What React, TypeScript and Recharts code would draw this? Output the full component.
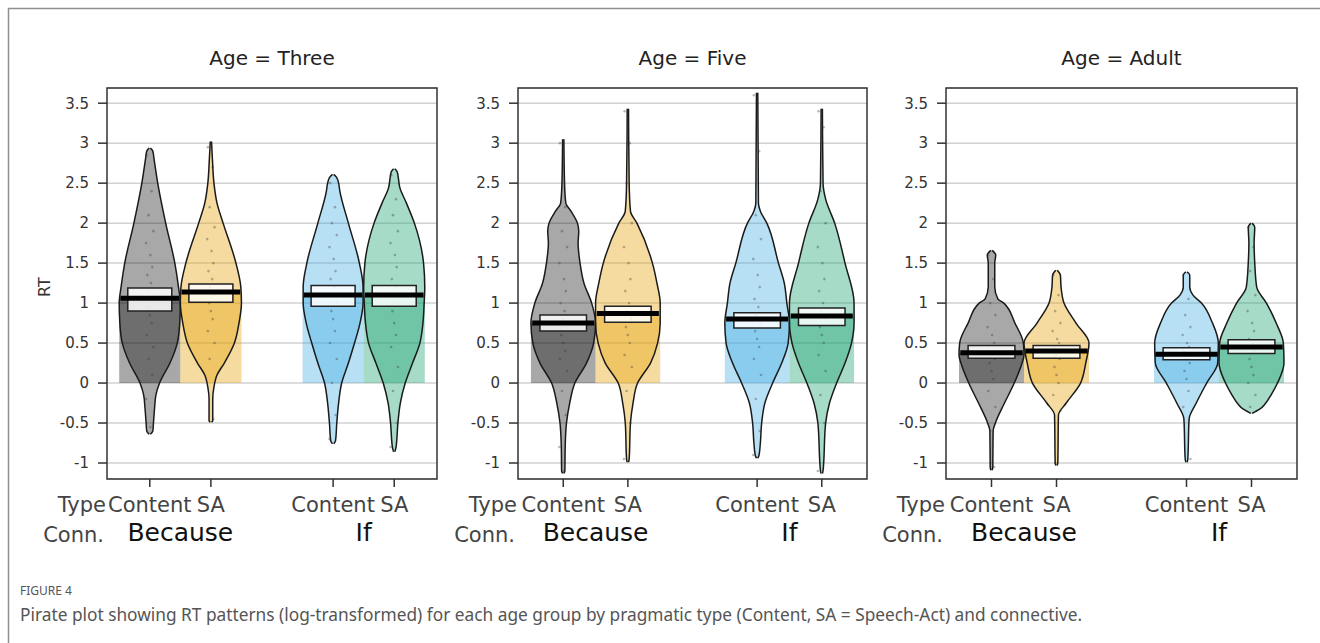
import React from 'react';
import {
  ComposedChart,
  XAxis,
  YAxis,
  CartesianGrid,
  Area,
  Scatter,
  ReferenceArea,
  ReferenceLine,
} from 'recharts';

// categories
const AGES = ['Three', 'Five', 'Adult'];
const POSITIONS = [1, 2, 4, 5];
const TYPE_LABELS = ['Content', 'SA', 'Content', 'SA'];
const CONN_POSITIONS = [1.5, 4.5];
const CONN_LABELS = ['Because', 'If'];
const Y_TICKS = [-1, -0.5, 0, 0.5, 1, 1.5, 2, 2.5, 3, 3.5];

// means (bar heights) and inference bands, order: Because-Content, Because-SA, If-Content, If-SA
const MEAN_THREE = [1.06, 1.14, 1.1, 1.1];
const CI_LOW_THREE = [0.9, 1.01, 0.96, 0.96];
const CI_HIGH_THREE = [1.19, 1.24, 1.22, 1.22];

const MEAN_FIVE = [0.75, 0.87, 0.8, 0.84];
const CI_LOW_FIVE = [0.65, 0.76, 0.69, 0.72];
const CI_HIGH_FIVE = [0.85, 0.96, 0.88, 0.94];

const MEAN_ADULT = [0.38, 0.4, 0.36, 0.45];
const CI_LOW_ADULT = [0.31, 0.31, 0.29, 0.37];
const CI_HIGH_ADULT = [0.47, 0.47, 0.44, 0.54];

// violin outlines: [RT, half width]
const THREE_BC = [[-0.64, 0.01], [-0.6, 0.05], [-0.5, 0.06], [-0.3, 0.08], [-0.15, 0.1], [0, 0.16], [0.25, 0.33], [0.5, 0.45], [0.75, 0.49], [1.0, 0.5], [1.2, 0.47], [1.5, 0.41], [2.0, 0.26], [2.5, 0.13], [2.8, 0.07], [2.9, 0.05], [2.94, 0.01]];
const THREE_BS = [[-0.49, 0.01], [-0.47, 0.03], [-0.2, 0.03], [-0.05, 0.05], [0.1, 0.1], [0.25, 0.22], [0.5, 0.385], [0.75, 0.46], [1.0, 0.5], [1.2, 0.49], [1.5, 0.41], [2.0, 0.2], [2.25, 0.1], [2.5, 0.05], [2.8, 0.025], [3.02, 0.01]];
const THREE_IC = [[-0.76, 0.01], [-0.72, 0.04], [-0.5, 0.06], [-0.25, 0.09], [0, 0.14], [0.25, 0.25], [0.5, 0.35], [0.75, 0.44], [1.0, 0.49], [1.2, 0.49], [1.5, 0.43], [2.0, 0.25], [2.4, 0.11], [2.5, 0.09], [2.57, 0.06], [2.61, 0.01]];
const THREE_IS = [[-0.86, 0.01], [-0.8, 0.03], [-0.5, 0.06], [-0.25, 0.1], [0, 0.18], [0.25, 0.3], [0.5, 0.42], [0.75, 0.47], [1.0, 0.49], [1.2, 0.5], [1.5, 0.48], [2.0, 0.33], [2.25, 0.2], [2.45, 0.09], [2.55, 0.07], [2.64, 0.05], [2.68, 0.01]];

const FIVE_BC = [[-1.13, 0.01], [-1.1, 0.025], [-0.8, 0.03], [-0.5, 0.05], [-0.25, 0.1], [0, 0.18], [0.25, 0.36], [0.5, 0.47], [0.75, 0.5], [1.0, 0.44], [1.25, 0.32], [1.5, 0.26], [1.75, 0.23], [1.9, 0.24], [2.0, 0.22], [2.15, 0.12], [2.25, 0.04], [2.5, 0.02], [3.05, 0.01]];
const FIVE_BS = [[-0.99, 0.01], [-0.95, 0.02], [-0.5, 0.04], [-0.25, 0.08], [0, 0.15], [0.25, 0.35], [0.5, 0.46], [0.75, 0.5], [1.0, 0.5], [1.25, 0.45], [1.5, 0.38], [2.0, 0.14], [2.15, 0.04], [2.5, 0.02], [3.43, 0.01]];
const FIVE_IC = [[-0.94, 0.01], [-0.9, 0.03], [-0.75, 0.05], [-0.5, 0.07], [-0.25, 0.12], [0, 0.24], [0.25, 0.38], [0.5, 0.48], [0.75, 0.5], [1.0, 0.46], [1.25, 0.42], [1.5, 0.33], [2.0, 0.15], [2.15, 0.05], [2.25, 0.02], [3.63, 0.01]];
const FIVE_IS = [[-1.13, 0.01], [-1.1, 0.02], [-0.5, 0.06], [-0.25, 0.12], [0, 0.23], [0.25, 0.36], [0.5, 0.46], [0.75, 0.5], [1.0, 0.5], [1.5, 0.36], [2.0, 0.2], [2.3, 0.06], [2.5, 0.02], [3.43, 0.01]];

const ADULT_BC = [[-1.09, 0.01], [-1.05, 0.02], [-0.6, 0.025], [-0.5, 0.06], [-0.25, 0.2], [0, 0.35], [0.25, 0.47], [0.35, 0.5], [0.5, 0.49], [0.75, 0.36], [1.0, 0.19], [1.05, 0.1], [1.2, 0.05], [1.5, 0.05], [1.6, 0.065], [1.66, 0.01]];
const ADULT_BS = [[-1.03, 0.01], [-1.0, 0.02], [-0.4, 0.03], [-0.25, 0.15], [0, 0.37], [0.25, 0.45], [0.5, 0.5], [0.75, 0.3], [1.0, 0.115], [1.2, 0.07], [1.35, 0.06], [1.41, 0.01]];
const ADULT_IC = [[-0.99, 0.01], [-0.95, 0.02], [-0.45, 0.04], [-0.25, 0.15], [0, 0.31], [0.25, 0.48], [0.5, 0.49], [0.75, 0.4], [1.0, 0.23], [1.1, 0.1], [1.2, 0.05], [1.35, 0.05], [1.39, 0.01]];
const ADULT_IS = [[-0.38, 0.01], [-0.36, 0.05], [-0.33, 0.12], [-0.25, 0.22], [-0.15, 0.3], [0, 0.4], [0.25, 0.5], [0.5, 0.49], [0.75, 0.38], [1.0, 0.23], [1.2, 0.08], [1.5, 0.05], [1.75, 0.04], [1.95, 0.05], [2.0, 0.01]];

// raw points (RT values) per category
const PTS_THREE_BC = [2.85, 2.4, 2.1, 1.9, 1.75, 1.6, 1.45, 1.35, 1.25, 1.15, 1.05, 0.95, 0.85, 0.75, 0.6, 0.45, 0.3, 0.1, -0.2, -0.55];
const PTS_THREE_BS = [2.95, 2.7, 2.2, 1.95, 1.8, 1.65, 1.5, 1.4, 1.3, 1.2, 1.1, 1.0, 0.9, 0.8, 0.65, 0.5, 0.3, -0.45];
const PTS_THREE_IC = [2.5, 2.2, 2.0, 1.85, 1.7, 1.55, 1.4, 1.3, 1.2, 1.1, 1.0, 0.9, 0.8, 0.65, 0.5, 0.3, 0.0, -0.4, -0.7];
const PTS_THREE_IS = [2.6, 2.3, 2.1, 1.9, 1.75, 1.6, 1.45, 1.3, 1.2, 1.1, 1.0, 0.9, 0.75, 0.6, 0.45, 0.2, -0.1, -0.5, -0.8];
const PTS_FIVE_BC = [3.0, 2.2, 1.9, 1.7, 1.5, 1.3, 1.15, 1.0, 0.9, 0.8, 0.7, 0.6, 0.5, 0.4, 0.3, 0.15, -0.1, -0.4, -0.8, -1.1];
const PTS_FIVE_BS = [3.4, 3.0, 2.5, 2.0, 1.7, 1.5, 1.3, 1.15, 1.0, 0.9, 0.8, 0.7, 0.6, 0.5, 0.35, 0.2, -0.1, -0.5, -0.95];
const PTS_FIVE_IC = [3.6, 2.9, 2.1, 1.8, 1.55, 1.35, 1.2, 1.05, 0.95, 0.85, 0.75, 0.65, 0.55, 0.45, 0.3, 0.1, -0.2, -0.6, -0.9];
const PTS_FIVE_IS = [3.4, 3.2, 2.4, 2.0, 1.7, 1.5, 1.3, 1.15, 1.0, 0.9, 0.8, 0.7, 0.6, 0.5, 0.35, 0.15, -0.15, -0.5, -1.1];
const PTS_ADULT_BC = [1.6, 1.3, 1.0, 0.85, 0.7, 0.6, 0.5, 0.45, 0.4, 0.35, 0.3, 0.25, 0.15, 0.05, -0.1, -0.3, -0.6, -1.05];
const PTS_ADULT_BS = [1.35, 1.1, 0.9, 0.75, 0.65, 0.55, 0.5, 0.45, 0.4, 0.35, 0.3, 0.2, 0.1, 0.0, -0.15, -0.35, -1.0];
const PTS_ADULT_IC = [1.35, 1.05, 0.85, 0.7, 0.6, 0.5, 0.45, 0.4, 0.35, 0.3, 0.25, 0.15, 0.05, -0.1, -0.3, -0.95];
const PTS_ADULT_IS = [1.95, 1.7, 1.4, 1.1, 0.9, 0.75, 0.65, 0.55, 0.5, 0.45, 0.4, 0.3, 0.2, 0.1, 0.0, -0.15, -0.3];
const JITTER = [-0.05, 0.03, -0.02, 0.06, -0.06, 0.01, 0.04, -0.04, 0.02, -0.01, 0.05, -0.03, 0.0, 0.03, -0.05, 0.06, -0.02, 0.04, -0.06, 0.01];

const MEANS = [MEAN_THREE, MEAN_FIVE, MEAN_ADULT];
const CI_LOWS = [CI_LOW_THREE, CI_LOW_FIVE, CI_LOW_ADULT];
const CI_HIGHS = [CI_HIGH_THREE, CI_HIGH_FIVE, CI_HIGH_ADULT];
const SHAPES = [
  [THREE_BC, THREE_BS, THREE_IC, THREE_IS],
  [FIVE_BC, FIVE_BS, FIVE_IC, FIVE_IS],
  [ADULT_BC, ADULT_BS, ADULT_IC, ADULT_IS],
];
const POINTS = [
  [PTS_THREE_BC, PTS_THREE_BS, PTS_THREE_IC, PTS_THREE_IS],
  [PTS_FIVE_BC, PTS_FIVE_BS, PTS_FIVE_IC, PTS_FIVE_IS],
  [PTS_ADULT_BC, PTS_ADULT_BS, PTS_ADULT_IC, PTS_ADULT_IS],
];

const FILLS = ['#000000', '#E6A50F', '#34A6E2', '#1EA573'];
const ALPHAS = [0.34, 0.4, 0.35, 0.4];

// layout
const BOXES = [
  { left: 107, right: 437 },
  { left: 518, right: 867 },
  { left: 946, right: 1297 },
];
const X_DOMAIN = [0.3, 5.7];
const Y_DOMAIN = [-1.2, 3.69];
const CHART_TOP = 40;
const CHART_H = 509;
const Y_AXIS_W = 70;
const FONT = '"DejaVu Sans", Arial, sans-serif';

const dot = (p: any) => <circle cx={p.cx} cy={p.cy} r={1.3} fill="#333" fillOpacity={0.35} />;

function Panel({ index }: { index: number }) {
  const box = BOXES[index];
  const chartLeft = box.left - Y_AXIS_W;
  const width = box.right - chartLeft + 10;
  const means = MEANS[index];
  const lows = CI_LOWS[index];
  const highs = CI_HIGHS[index];
  const violins = SHAPES[index].map((shape, i) =>
    shape.map(([y, w]) => ({ y, range: [POSITIONS[i] - w, POSITIONS[i] + w] }))
  );
  const points = POINTS[index].flatMap((ys, i) =>
    ys.map((y, j) => ({ x: POSITIONS[i] + JITTER[j % JITTER.length], y }))
  );

  return (
    <div style={{ position: 'absolute', left: chartLeft, top: CHART_TOP }}>
      <ComposedChart
        layout="vertical"
        width={width}
        height={CHART_H}
        margin={{ top: 48, right: 10, bottom: 0, left: 0 }}
        style={{ fontFamily: FONT }}
      >
        <CartesianGrid horizontal vertical={false} stroke="#d2d2d2" strokeWidth={1.5} />
        <XAxis
          type="number"
          dataKey="x"
          domain={X_DOMAIN}
          allowDataOverflow
          ticks={POSITIONS}
          interval={0}
          tickFormatter={(v: number) => TYPE_LABELS[POSITIONS.indexOf(v)] ?? ''}
          height={30}
          tickSize={8}
          tickMargin={10}
          axisLine={false}
          tickLine={{ stroke: '#333', strokeWidth: 1.5 }}
          tick={{ fontSize: 21, fill: '#444', fontFamily: FONT }}
        />
        <XAxis
          xAxisId="conn"
          type="number"
          domain={X_DOMAIN}
          allowDataOverflow
          ticks={CONN_POSITIONS}
          interval={0}
          tickFormatter={(v: number) => CONN_LABELS[CONN_POSITIONS.indexOf(v)] ?? ''}
          height={40}
          tickSize={0}
          tickMargin={14}
          axisLine={false}
          tickLine={false}
          tick={{ fontSize: 25, fill: '#111', fontFamily: FONT }}
        />
        <YAxis
          type="number"
          dataKey="y"
          reversed
          domain={Y_DOMAIN}
          allowDataOverflow
          ticks={Y_TICKS}
          interval={0}
          width={Y_AXIS_W}
          tickSize={9}
          tickMargin={9}
          axisLine={false}
          tickLine={{ stroke: '#333', strokeWidth: 1.5 }}
          tick={{ fontSize: 15, fill: '#333', fontFamily: FONT }}
        />
        {POSITIONS.map((p, i) => (
          <ReferenceArea
            key={`bar${i}`}
            x1={p - 0.5}
            x2={p + 0.5}
            y1={0}
            y2={means[i]}
            fill={FILLS[i]}
            fillOpacity={ALPHAS[i]}
            stroke="none"
            zIndex={50}
          />
        ))}
        {violins.map((data, i) => (
          <Area
            key={`vio${i}`}
            data={data}
            dataKey="range"
            type="monotone"
            fill={FILLS[i]}
            fillOpacity={ALPHAS[i]}
            stroke="#1a1a1a"
            strokeWidth={1.5}
            dot={false}
            activeDot={false}
            isAnimationActive={false}
            zIndex={100}
          />
        ))}
        <Scatter data={points} shape={dot} isAnimationActive={false} zIndex={600} />
        {POSITIONS.map((p, i) => (
          <ReferenceArea
            key={`ci${i}`}
            x1={p - 0.36}
            x2={p + 0.36}
            y1={lows[i]}
            y2={highs[i]}
            fill="#ffffff"
            fillOpacity={0.85}
            stroke="#222"
            strokeWidth={1.5}
            zIndex={700}
          />
        ))}
        {POSITIONS.map((p, i) => (
          <ReferenceLine
            key={`avg${i}`}
            segment={[{ x: p - 0.48, y: means[i] }, { x: p + 0.48, y: means[i] }]}
            stroke="#000"
            strokeWidth={5}
            zIndex={800}
          />
        ))}
        <ReferenceArea
          x1={X_DOMAIN[0]}
          x2={X_DOMAIN[1]}
          y1={Y_DOMAIN[0]}
          y2={Y_DOMAIN[1]}
          fill="none"
          stroke="#333"
          strokeWidth={1.5}
          zIndex={900}
        />
      </ComposedChart>
    </div>
  );
}

export default function App() {
  return (
    <div style={{ position: 'absolute', left: 0, top: 0, width: 1320, height: 643, background: '#fff', fontFamily: FONT }}>
      <svg width={1320} height={643} style={{ position: 'absolute', left: 0, top: 0 }}>
        <line x1={8} y1={8.5} x2={1320} y2={8.5} stroke="#8f8f8f" strokeWidth={1.5} />
        <line x1={8.5} y1={8} x2={8.5} y2={643} stroke="#8f8f8f" strokeWidth={1.5} />
        {AGES.map((age, i) => (
          <text
            key={age}
            x={(BOXES[i].left + BOXES[i].right) / 2}
            y={65}
            textAnchor="middle"
            fontFamily={FONT}
            fontSize={20}
            fill="#222"
          >
            {`Age = ${age}`}
          </text>
        ))}
        <text x={50} y={287} transform="rotate(-90 50 287)" textAnchor="middle" fontFamily={FONT} fontSize={16} fill="#333">
          RT
        </text>
        {BOXES.map((b, i) => (
          <g key={`lab${i}`}>
            <text x={b.left - 1} y={512} textAnchor="end" fontFamily={FONT} fontSize={21} fill="#444">
              Type
            </text>
            <text x={b.left - 3} y={542} textAnchor="end" fontFamily={FONT} fontSize={21} fill="#444">
              Conn.
            </text>
          </g>
        ))}
        <text x={20} y={595} fontFamily='"Noto Sans", sans-serif' fontSize={12} fill="#555">
          FIGURE 4
        </text>
        <text x={20} y={621} fontFamily='"Noto Sans", sans-serif' fontSize={17.3} fill="#555">
          Pirate plot showing RT patterns (log-transformed) for each age group by pragmatic type (Content, SA = Speech-Act) and connective.
        </text>
      </svg>
      {AGES.map((age, i) => (
        <Panel key={age} index={i} />
      ))}
    </div>
  );
}
